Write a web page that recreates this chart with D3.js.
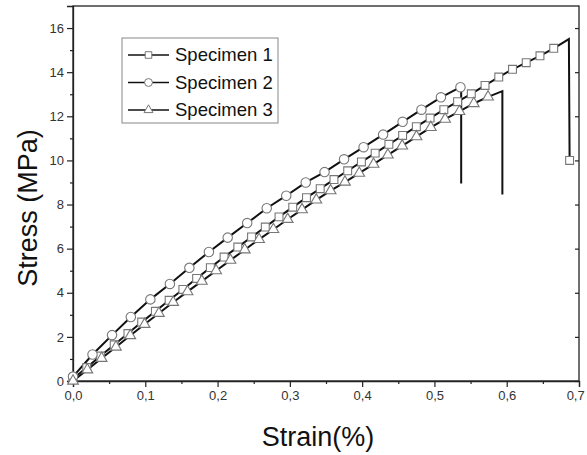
<!DOCTYPE html>
<html>
<head>
<meta charset="utf-8">
<script src="https://cdn.jsdelivr.net/npm/d3@7"></script>
<style>
  html, body { margin: 0; padding: 0; background: #fff; overflow: hidden; }
  svg { display: block; }
  text { font-family: "Liberation Sans", Arial, sans-serif; }
</style>
</head>
<body>
<div id="chart"></div>
<script>
// Specimen 1 (squares)
var s1Strain = [0, 0.019, 0.038, 0.057, 0.076, 0.095, 0.114, 0.133, 0.152, 0.171, 0.190, 0.209, 0.228, 0.247, 0.266, 0.285, 0.304, 0.323, 0.342, 0.361, 0.380, 0.399, 0.418, 0.437, 0.456, 0.475, 0.494, 0.513, 0.532, 0.551, 0.570, 0.589, 0.608, 0.627, 0.646, 0.665];
var s1Stress = [0.10, 0.61, 1.13, 1.64, 2.15, 2.67, 3.16, 3.66, 4.15, 4.65, 5.14, 5.62, 6.07, 6.53, 6.98, 7.44, 7.88, 8.31, 8.72, 9.13, 9.53, 9.93, 10.33, 10.73, 11.13, 11.53, 11.92, 12.30, 12.66, 13.02, 13.40, 13.78, 14.13, 14.43, 14.74, 15.08];
var s1TailStrain = [0.686, 0.687];
var s1TailStress = [15.50, 10.00];

// Specimen 2 (circles)
var s2Strain = [0, 0.027, 0.054, 0.080, 0.107, 0.134, 0.161, 0.188, 0.214, 0.241, 0.268, 0.295, 0.322, 0.348, 0.375, 0.402, 0.429, 0.456, 0.482, 0.509, 0.536];
var s2Stress = [0.20, 1.20, 2.08, 2.90, 3.70, 4.40, 5.13, 5.85, 6.50, 7.16, 7.83, 8.40, 9.00, 9.47, 10.05, 10.60, 11.17, 11.75, 12.30, 12.86, 13.32];
var s2TailStrain = [0.537, 0.537];
var s2TailStress = [13.30, 8.95];

// Specimen 3 (triangles)
var s3Strain = [0, 0.0198, 0.0396, 0.0594, 0.0792, 0.0990, 0.1188, 0.1386, 0.1584, 0.1782, 0.1980, 0.2178, 0.2376, 0.2574, 0.2772, 0.2970, 0.3168, 0.3366, 0.3564, 0.3762, 0.3960, 0.4158, 0.4356, 0.4554, 0.4752, 0.4950, 0.5148, 0.5346, 0.5544, 0.5742];
var s3Stress = [0.00, 0.51, 1.03, 1.54, 2.06, 2.57, 3.07, 3.57, 4.05, 4.53, 5.00, 5.48, 5.95, 6.42, 6.87, 7.33, 7.77, 8.21, 8.63, 9.02, 9.42, 9.83, 10.25, 10.66, 11.08, 11.50, 11.87, 12.22, 12.58, 12.88];
var s3TailStrain = [0.594, 0.594];
var s3TailStress = [13.14, 8.46];

var seriesNames = ["Specimen 1", "Specimen 2", "Specimen 3"];
var xTicks = [0, 0.1, 0.2, 0.3, 0.4, 0.5, 0.6, 0.7];
var xMinor = [0.05, 0.15, 0.25, 0.35, 0.45, 0.55, 0.65];
var yTicks = [0, 2, 4, 6, 8, 10, 12, 14, 16];
var yMinor = [1, 3, 5, 7, 9, 11, 13, 15];

var width = 587, height = 455;
var margin = {top: 6, right: 8, bottom: 74, left: 73};
var innerWidth = width - margin.left - margin.right,
    innerHeight = height - margin.top - margin.bottom;

var svg = d3.select("#chart").append("svg")
  .attr("width", width)
  .attr("height", height);

var g = svg.append("g")
  .attr("transform", "translate(" + margin.left + "," + margin.top + ")");

var x = d3.scaleLinear().domain([0, 0.7]).range([0, innerWidth]);
var y = d3.scaleLinear().domain([0, 17]).range([innerHeight, 0]);

function zip(a, b) { return a.map((v, i) => [v, b[i]]); }

var series = [
  {name: seriesNames[0], shape: d3.symbolSquare, size: 62, pts: zip(s1Strain, s1Stress), tail: zip(s1TailStrain, s1TailStress), tailMark: true},
  {name: seriesNames[1], shape: d3.symbolCircle, size: 70, pts: zip(s2Strain, s2Stress), tail: zip(s2TailStrain, s2TailStress), tailMark: false},
  {name: seriesNames[2], shape: d3.symbolTriangle, size: 50, pts: zip(s3Strain, s3Stress), tail: zip(s3TailStrain, s3TailStress), tailMark: false}
];

var line = d3.line()
  .x(d => x(d[0]))
  .y(d => y(d[1]));

// frame
g.append("rect")
  .attr("width", innerWidth)
  .attr("height", innerHeight)
  .attr("fill", "none")
  .attr("stroke", "#222")
  .attr("stroke-width", 1.3);

// tick-only axis (minor ticks, right side): drop the empty labels and domain
function tickOnly(sel) {
  sel.select(".domain").remove();
  sel.selectAll(".tick text").remove();
}

// bottom axis
var fmt = d => d3.format(".1f")(d).replace(".", ",");
var xAxis = d3.axisBottom(x).tickValues(xTicks).tickFormat(fmt).tickSize(6).tickPadding(4);
var xg = g.append("g")
  .attr("transform", `translate(0,${innerHeight})`)
  .call(xAxis);
// last label sits against the page edge
xg.selectAll(".tick text").filter(d => d === 0.7)
  .attr("text-anchor", "end")
  .attr("dx", "0.4em");
g.append("g")
  .attr("transform", `translate(0,${innerHeight})`)
  .call(d3.axisBottom(x).tickValues(xMinor).tickSize(3))
  .call(tickOnly);

// left axis
var yAxis = d3.axisLeft(y).tickValues(yTicks).tickSize(6).tickPadding(3);
var yg = g.append("g").call(yAxis);
g.append("g")
  .call(d3.axisLeft(y).tickValues(yMinor).tickSize(3))
  .call(tickOnly);

// right axis ticks (inward)
g.append("g")
  .attr("transform", `translate(${innerWidth},0)`)
  .call(d3.axisLeft(y).tickValues(yTicks).tickSize(4))
  .call(tickOnly);

g.selectAll(".domain").attr("stroke", "#222").attr("stroke-width", 1.3);
g.selectAll(".tick line").attr("stroke", "#222").attr("stroke-width", 1.2);
g.selectAll(".tick text").attr("fill", "#333").style("font-size", "13px")
  .style("font-family", "'Liberation Sans', Arial, sans-serif");

// curves
var curves = g.append("g").attr("id", "curves");
series.forEach(function(s) {
  var all = s.pts.concat(s.tail);
  curves.append("path")
    .attr("d", line(all))
    .attr("fill", "none")
    .attr("stroke", "#111")
    .attr("stroke-width", 2);
});

series.forEach(function(s) {
  var marks = s.tailMark ? s.pts.concat([s.tail[s.tail.length - 1]]) : s.pts;
  curves.append("g")
    .selectAll("path")
    .data(marks)
    .enter()
    .append("path")
    .attr("d", d3.symbol().type(s.shape).size(s.size))
    .attr("transform", d => `translate(${x(d[0])},${y(d[1])})`)
    .attr("fill", "#fff")
    .attr("stroke", "#777")
    .attr("stroke-width", 1.1);
});

// legend
var legend = svg.append("g").attr("transform", "translate(122,38)");
legend.append("rect")
  .attr("width", 156)
  .attr("height", 85)
  .attr("fill", "#fff")
  .attr("stroke", "#888")
  .attr("stroke-width", 1);

series.forEach(function(s, i) {
  var ly = 17 + i * 27.5;
  legend.append("line")
    .attr("x1", 6).attr("x2", 47)
    .attr("y1", ly).attr("y2", ly)
    .attr("stroke", "#111").attr("stroke-width", 1.5);
  legend.append("path")
    .attr("d", d3.symbol().type(s.shape).size(s.size * 0.7))
    .attr("transform", `translate(26.5,${ly})`)
    .attr("fill", "#fff")
    .attr("stroke", "#777")
    .attr("stroke-width", 1);
  legend.append("text")
    .attr("x", 53)
    .attr("y", ly + 6)
    .attr("fill", "#111")
    .style("font-size", "18.5px")
    .text(s.name);
});

// axis titles
svg.append("text")
  .attr("x", 318)
  .attr("y", 446)
  .attr("text-anchor", "middle")
  .attr("fill", "#111")
  .style("font-size", "27px")
  .text("Strain(%)");

svg.append("text")
  .attr("transform", "translate(37,208) rotate(-90)")
  .attr("text-anchor", "middle")
  .attr("fill", "#111")
  .style("font-size", "27px")
  .text("Stress (MPa)");
</script>
</body>
</html>
